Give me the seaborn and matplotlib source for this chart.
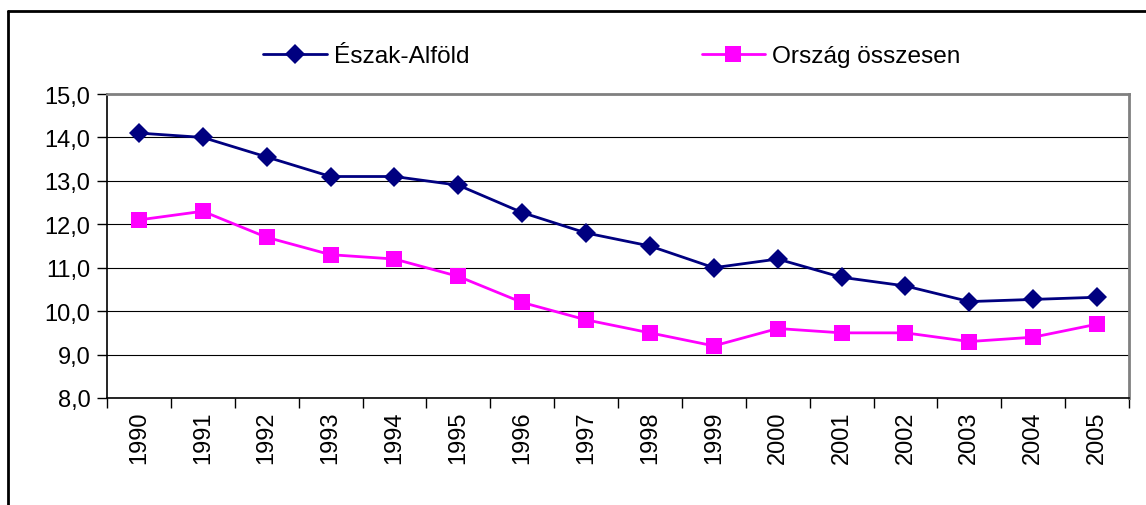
import pandas as pd
import seaborn as sns
import matplotlib.pyplot as plt
from matplotlib.lines import Line2D
from matplotlib.ticker import FuncFormatter, FixedLocator

sns.set_theme(style="white")
plt.rcParams["font.family"] = ["Liberation Sans", "DejaVu Sans"]
plt.rcParams["text.color"] = "black"
plt.rcParams["xtick.color"] = "black"
plt.rcParams["ytick.color"] = "black"

years = [str(y) for y in range(1990, 2006)]
eszak_alfold = [14.1, 14.0, 13.55, 13.1, 13.1, 12.9, 12.27, 11.8, 11.5, 11.0,
                11.2, 10.78, 10.58, 10.22, 10.27, 10.32]
orszag = [12.1, 12.3, 11.7, 11.3, 11.2, 10.8, 10.2, 9.8, 9.5, 9.2,
          9.6, 9.5, 9.5, 9.3, 9.4, 9.7]
series_names = ["Észak-Alföld", "Ország összesen"]

df = pd.DataFrame({
    "year": years * 2,
    "value": eszak_alfold + orszag,
    "series": [series_names[0]] * len(years) + [series_names[1]] * len(years),
})

W, H = 1146, 506
fig = plt.figure(figsize=(W / 100, H / 100), dpi=100)
ax = fig.add_axes([107 / W, 1 - 399 / H, (1129 - 107) / W, (399 - 95) / H])

fs = 17

# two series, separate calls so the markers can differ in size
sns.lineplot(data=df[df.series == series_names[0]], x="year", y="value",
             color="#000080", marker="D", markersize=10.5, markeredgewidth=0,
             linewidth=2, label=series_names[0], ax=ax, sort=False)
sns.lineplot(data=df[df.series == series_names[1]], x="year", y="value",
             color="#FF00FF", marker="s", markersize=11.5, markeredgewidth=0,
             linewidth=2, label=series_names[1], ax=ax, sort=False)

ax.set_xlim(-0.5, len(years) - 0.5)
ax.set_ylim(8, 15)
ax.set_xlabel("")
ax.set_ylabel("")

# y axis: comma decimal
ax.yaxis.set_major_locator(FixedLocator(range(8, 16)))
ax.yaxis.set_major_formatter(FuncFormatter(lambda v, p: f"{v:.1f}".replace(".", ",")))
ax.tick_params(axis="y", which="major", direction="out", length=7, width=1,
               color="black", labelsize=fs, pad=5, left=True)
ax.grid(axis="y", color="black", linewidth=0.8)
ax.grid(axis="x", visible=False)

# x axis: labels at category centers, ticks at boundaries
ax.set_xticks(range(len(years)))
ax.set_xticklabels(years, rotation=90)
ax.set_xticks([i - 0.5 for i in range(len(years) + 1)], minor=True)
ax.tick_params(axis="x", which="major", length=0, labelsize=fs, pad=9)
ax.tick_params(axis="x", which="minor", direction="out", length=7, width=1,
               color="black", bottom=True)

for side in ["left", "bottom"]:
    ax.spines[side].set_color("black")
    ax.spines[side].set_linewidth(1.2)
for side in ["top", "right"]:
    ax.spines[side].set_color("#808080")
    ax.spines[side].set_linewidth(2)

ax.legend(loc="center left", bbox_to_anchor=(263 / W, 1 - 57 / H),
          bbox_transform=fig.transFigure, ncol=2, frameon=False,
          fontsize=17.6, handlelength=2.6, handletextpad=0.3, columnspacing=9.5,
          borderaxespad=0, borderpad=0)

# outer chart border (cut off at right and bottom)
fig.add_artist(Line2D([8 / W, 8 / W], [0, 1 - 12 / H], transform=fig.transFigure,
                      color="black", linewidth=2))
fig.add_artist(Line2D([8 / W, 1], [1 - 12 / H, 1 - 12 / H], transform=fig.transFigure,
                      color="black", linewidth=2))

fig.savefig("out.png", dpi=100)
plt.close()
